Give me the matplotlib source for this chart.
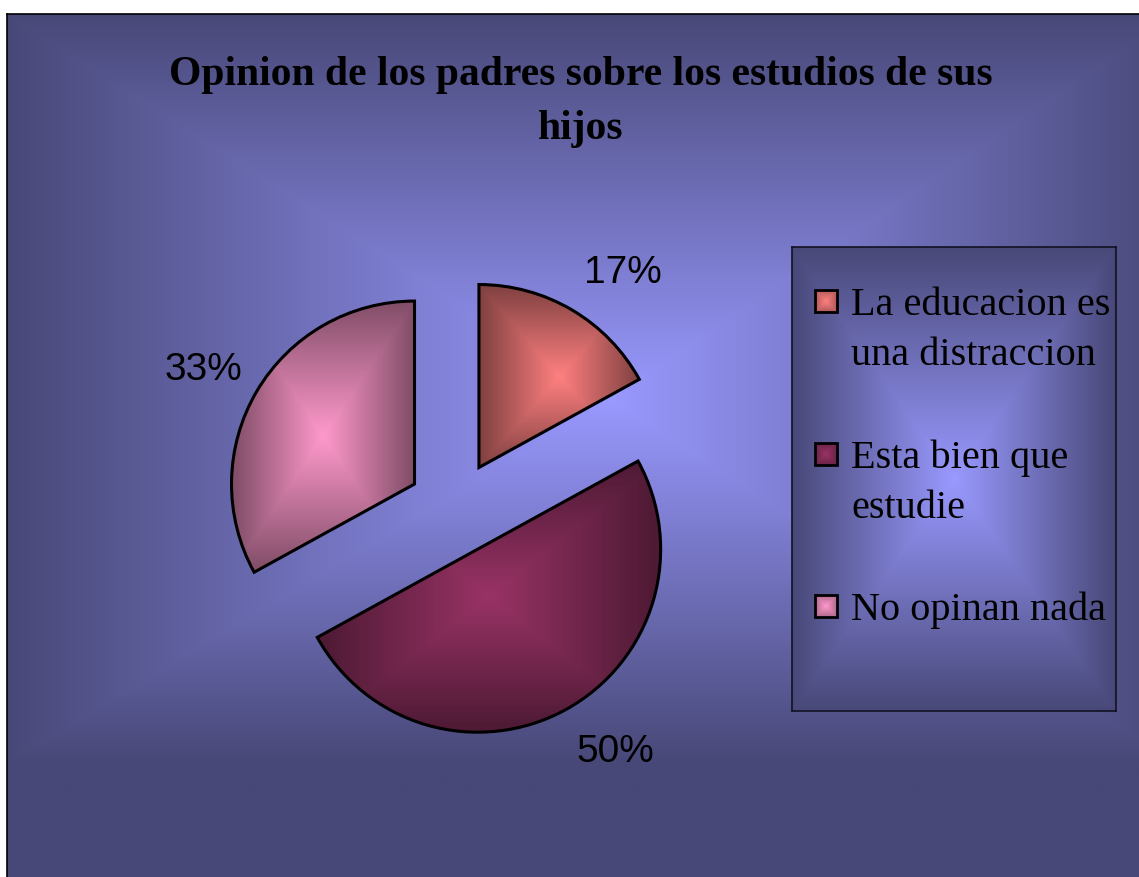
import numpy as np
import matplotlib.pyplot as plt
from matplotlib.colors import to_rgb
from matplotlib.transforms import ScaledTranslation

# ---- data ----
values = [17, 50, 33]
legend_labels = ['La educacion es\nuna distraccion', 'Esta bien que\nestudie', 'No opinan nada']
slice_colors = ['#FF8080', '#993366', '#FF99CC']
title = 'Opinion de los padres sobre los estudios de sus\nhijos'

BG_LIGHT = '#9999FF'
BG_DARK = '#484878'

W, H = 1139, 877


def rect_gradient(c_center, c_edge, nx, ny, cx=0.5, cy=0.5, sx=(0.5, 0.5), sy=(0.5, 0.5)):
    """Excel-like 'from center' rectangular gradient (rows top->bottom)."""
    X, Y = np.meshgrid(np.linspace(0, 1, nx), np.linspace(0, 1, ny))
    dx = np.where(X < cx, (cx - X) / sx[0], (X - cx) / sx[1])
    dy = np.where(Y < cy, (cy - Y) / sy[0], (Y - cy) / sy[1])
    t = np.clip(np.maximum(dx, dy), 0, 1)[..., None]
    c0 = np.array(to_rgb(c_center))
    c1 = np.array(to_rgb(c_edge))
    return c0 * (1 - t) + c1 * t


def darker(c, f=0.5):
    return tuple(f * v for v in to_rgb(c))


fig = plt.figure(figsize=(W / 100, H / 100), dpi=100)
fig.patch.set_facecolor('white')

# ---- chart area background ----
bg = fig.add_axes([7 / W, 0, 1 - 7 / W, 1 - 14 / H])
bg.imshow(rect_gradient(BG_LIGHT, BG_DARK, 600, 460, cx=0.533, cy=0.447,
                        sx=(0.533, 0.50), sy=(0.447, 0.42)),
          aspect='auto', extent=[0, 1, 0, 1], interpolation='bilinear')
bg.set_xticks([])
bg.set_yticks([])
for side in ['right', 'bottom']:
    bg.spines[side].set_visible(False)
for side in ['left', 'top']:
    bg.spines[side].set_color('black')
    bg.spines[side].set_linewidth(1.2)

# ---- title ----
fig.text(581 / W, 1 - 102 / H, title, ha='center', va='center',
         fontsize=30, fontweight='bold', family='Liberation Serif', linespacing=1.55)

# ---- pie ----
R_PX = 183
half = 280
ax = fig.add_axes([(455 - half) / W, (H - 508 - half) / H, 2 * half / W, 2 * half / H])
ax.set_facecolor('none')
wedges, _, pct_texts = ax.pie(values, explode=[0.257] * len(values), startangle=90,
                              counterclock=False, autopct='%1.0f%%', pctdistance=1.25,
                              textprops=dict(fontsize=28, family='Liberation Sans', color='black'))

# Excel nudges the percentage labels sideways, away from the pie
for t in pct_texts:
    side = 1 if t.get_position()[0] > 0 else -0.52
    t.set_transform(ax.transData + ScaledTranslation(side * 0.27, -0.02, fig.dpi_scale_trans))

for w, c in zip(wedges, slice_colors):
    bb = w.get_path().get_extents()
    im = ax.imshow(rect_gradient(c, darker(c), 200, 200),
                   extent=[bb.x0, bb.x1, bb.y0, bb.y1], interpolation='bilinear', zorder=2)
    im.set_clip_path(w)
    w.set_facecolor('none')
    w.set_edgecolor('black')
    w.set_linewidth(2.2)
    w.set_zorder(3)

lim = half / R_PX
ax.set_xlim(-lim, lim)
ax.set_ylim(-lim, lim)
ax.set_aspect('equal')
ax.axis('off')

# ---- legend box ----
LX0, LY0, LW, LH = 792, 247, 324, 464
lg = fig.add_axes([LX0 / W, 1 - (LY0 + LH) / H, LW / W, LH / H])
lg.imshow(rect_gradient(BG_LIGHT, BG_DARK, 300, 400), aspect='auto',
          extent=[0, LW, LH, 0], interpolation='bilinear')
lg.set_xticks([])
lg.set_yticks([])
for side in lg.spines:
    lg.spines[side].set_color('#111122')
    lg.spines[side].set_linewidth(1.2)

line_h = 50
entry_gap = 152.5
for i, (lab, c) in enumerate(zip(legend_labels, slice_colors)):
    base = 68 + entry_gap * i
    x0, y0, s = 23, base - 25, 22
    lg.imshow(rect_gradient(c, darker(c, 0.7), 20, 20), extent=[x0, x0 + s, y0 + s, y0],
              interpolation='bilinear', zorder=2)
    lg.add_patch(plt.Rectangle((x0, y0), s, s, facecolor='none',
                               edgecolor='black', linewidth=2, zorder=3))
    for j, line in enumerate(lab.split('\n')):
        lg.text(59, base + j * line_h, line, ha='left', va='baseline',
                fontsize=29, family='Liberation Serif', color='black')

lg.set_xlim(0, LW)
lg.set_ylim(LH, 0)
lg.set_aspect('auto')

fig.savefig('out.png', dpi=100)
